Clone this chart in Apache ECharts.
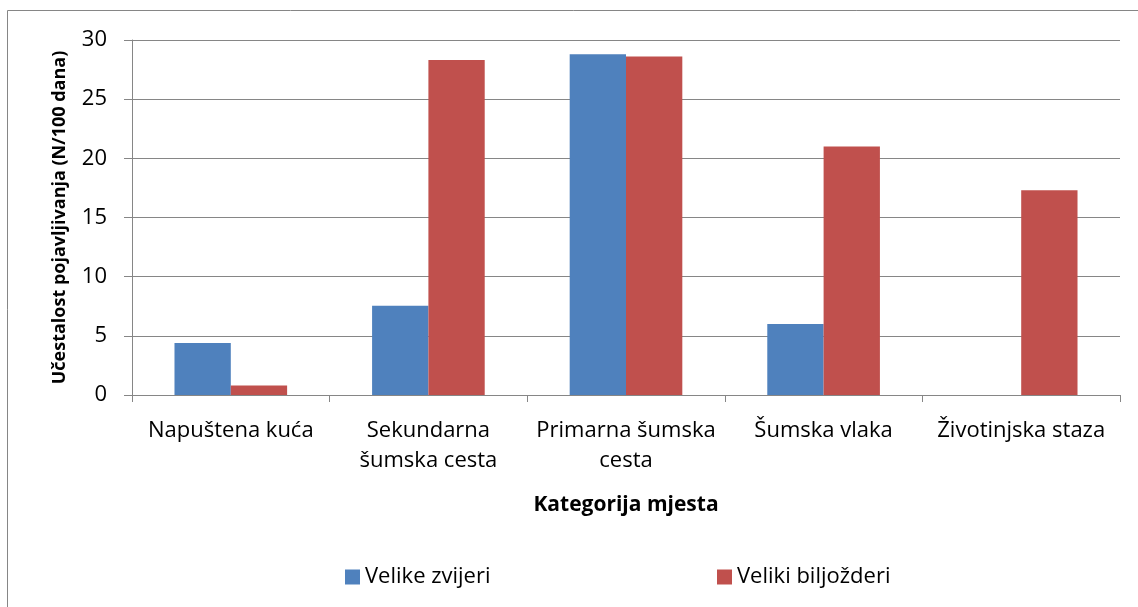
<!DOCTYPE html>
<html>
<head>
<meta charset="utf-8">
<script src="https://cdn.jsdelivr.net/npm/echarts@6/dist/echarts.min.js"></script>
<style>
  html, body { margin: 0; padding: 0; background: #fff; }
  #chart { width: 1138px; height: 607px; }
</style>
</head>
<body>
<div id="chart"></div>
<script>
var categories = ['Napuštena kuća', 'Sekundarna šumska cesta', 'Primarna šumska cesta', 'Šumska vlaka', 'Životinjska staza'];
var velikeZvijeri = [4.4, 7.55, 28.8, 6.0, 0];
var velikiBiljozderi = [0.8, 28.3, 28.6, 21.0, 17.3];
var yTicks = [0, 5, 10, 15, 20, 25, 30];

// kako je Excel prelomio nazive kategorija
var wrapped = {
    'Sekundarna šumska cesta': 'Sekundarna\nšumska cesta',
    'Primarna šumska cesta': 'Primarna šumska\ncesta'
};

var font = 'Open Sans';
var chart = echarts.init(document.getElementById('chart'));
var option = {
    animation: false,
    textStyle: { fontFamily: font },
    graphic: [{
        type: 'rect',
        shape: { x: 7.5, y: 10.5, width: 1200, height: 700 },
        style: { fill: 'none', stroke: '#868686', lineWidth: 1 },
        silent: true
    }],
    grid: { left: 132, right: 18, top: 40, bottom: 212 },
    legend: [
        {
            data: ['Velike zvijeri'], left: 345, top: 566, padding: 0,
            itemWidth: 15, itemHeight: 15, itemGap: 6, icon: 'rect',
            textStyle: { fontFamily: font, fontSize: 22, color: '#000' }
        },
        {
            data: ['Veliki biljožderi'], left: 717, top: 566, padding: 0,
            itemWidth: 15, itemHeight: 15, itemGap: 6, icon: 'rect',
            textStyle: { fontFamily: font, fontSize: 22, color: '#000' }
        }
    ],
    xAxis: {
        type: 'category',
        data: categories,
        name: 'Kategorija mjesta',
        nameLocation: 'middle',
        nameGap: 100,
        nameTextStyle: { fontFamily: font, fontSize: 21, fontWeight: 'bold', color: '#000' },
        axisLine: { lineStyle: { color: '#868686', width: 1 } },
        axisTick: { show: true, length: 7, lineStyle: { color: '#868686' } },
        axisLabel: {
            interval: 0,
            margin: 21,
            fontSize: 22,
            lineHeight: 30,
            color: '#000',
            formatter: function (v) { return wrapped[v] || v; }
        }
    },
    yAxis: {
        type: 'value',
        min: 0,
        max: yTicks[yTicks.length - 1],
        interval: yTicks[1] - yTicks[0],
        name: 'Učestalost pojavljivanja (N/100 dana)',
        nameLocation: 'middle',
        nameGap: 63,
        nameTextStyle: { fontFamily: font, fontSize: 18, fontWeight: 'bold', color: '#000' },
        axisLine: { show: true, lineStyle: { color: '#868686', width: 1 } },
        axisTick: { show: true, length: 8, lineStyle: { color: '#868686' } },
        axisLabel: { fontSize: 22, color: '#000', margin: 25 },
        splitLine: { lineStyle: { color: '#868686', width: 1 } }
    },
    series: [
        {
            name: 'Velike zvijeri',
            type: 'bar',
            data: velikeZvijeri,
            barGap: '0%',
            barCategoryGap: '43%',
            itemStyle: { color: '#4F81BD' }
        },
        {
            name: 'Veliki biljožderi',
            type: 'bar',
            data: velikiBiljozderi,
            barGap: '0%',
            barCategoryGap: '43%',
            itemStyle: { color: '#C0504D' }
        }
    ]
};
chart.setOption(option);
</script>
</body>
</html>
